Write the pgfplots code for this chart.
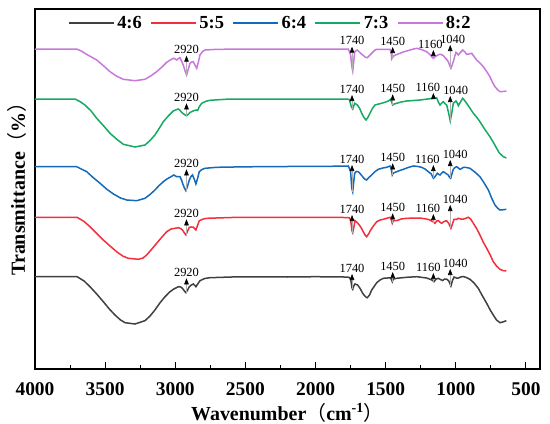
\documentclass[border=0pt]{standalone}
\usepackage{pgfplots}
\pgfplotsset{compat=1.18}
\usepackage{fontspec}
\setmainfont{Liberation Serif}
\newfontfamily\cjk{Noto Sans CJK SC}
\usetikzlibrary{arrows.meta}
\definecolor{cgray}{RGB}{64,64,64}
\definecolor{cred}{RGB}{245,45,60}
\definecolor{cblue}{RGB}{20,105,185}
\definecolor{cgreen}{RGB}{20,170,100}
\definecolor{cviolet}{RGB}{200,120,220}
\tikzset{
  annshaft/.style={gray!60, line width=0.6bp, -{Triangle[length=6bp,width=4.5bp,color=black,fill=black]}},
  annlabel/.style={above, black, inner sep=1.5bp, font=\fontsize{12.5}{13}\selectfont}
}
\newcommand{\ann}[5][0bp]{\draw[annshaft] (axis cs:#2,#3) -- (axis cs:#2,#4) node[annlabel,xshift=#1]{#5};}
\pgfplotsset{
  legend image code/.code={\draw[mark repeat=2,mark phase=2,#1] plot coordinates {(0bp,0bp) (22.5bp,0bp) (45bp,0bp)};},
}
\begin{document}
\begin{tikzpicture}
\begin{axis}[
  scale only axis, width=505bp, height=360bp,
  at={(0,0)}, anchor=south west,
  xmin=400, xmax=4000, x dir=reverse,
  ymin=55, ymax=415,
  ytick=\empty,
  xtick={500,1000,...,4000},
  minor x tick num=1,
  xtick pos=left,
  tick align=inside,
  major tick length=7bp, minor tick length=4bp,
  axis line style={line width=1.2bp},
  every tick/.style={black, line width=1bp},
  /pgf/number format/assume math mode=true,
  /pgf/number format/1000 sep={},
  xticklabel style={font=\bfseries\fontsize{19.5}{20}\selectfont, anchor=base, yshift=-26bp},
  xlabel={Wavenumber{\cjk\mdseries （}cm\textsuperscript{-1}{\cjk\mdseries ）}},
  xlabel style={at={(axis description cs:0.5,0)}, anchor=base, yshift=-51bp, font=\bfseries\fontsize{20}{22}\selectfont},
  ylabel={Transmittance{\cjk\mdseries （}\%{\cjk\mdseries ）}},
  ylabel style={at={(axis description cs:-0.0198,0.514)}, anchor=base, font=\bfseries\fontsize{20}{22}\selectfont},
  legend columns=5,
  legend style={draw=none, fill=none, at={(axis description cs:0.0653,0.9605)}, anchor=west, inner sep=0pt,
    font=\bfseries\fontsize{18.5}{19}\selectfont,
    nodes={inner sep=2.5bp},
    /tikz/every even column/.append style={column sep=6bp}},
  legend image post style={line width=1.6bp},
  every axis plot/.append style={line width=1.5bp},
]
\addplot[cgray] coordinates {
(4000,147.3)(3800,147.5)(3700,147.3)(3650,143)(3608,137.3)(3560,130)(3513,122.3)(3470,115)(3430,109)(3390,104)
(3358,101.3)(3287,100)(3216,103.3)(3180,108)(3145,114)(3110,121)(3073,127.3)(3040,132)(3014,134.7)(2978,137.3)
(2960,137)(2948,135.5)(2935,133)(2924,131.3)(2912,134)(2900,137.3)(2885,139)(2871,140)(2860,138.5)(2853,137.3)
(2840,140)(2824,143.3)(2790,145.5)(2753,146.3)(2600,147)(2400,147.2)(2200,147)(2000,147.3)(1800,147)(1760,146.7)
(1750,145)(1740,136)(1735,134.7)(1728,138)(1719,140)(1700,139)(1683,135.7)(1665,131)(1655,129)(1640,126.8)
(1631,126.3)(1615,129)(1600,134)(1580,138)(1564,141.3)(1540,144)(1517,145.7)(1469,146.2)(1460,145)(1453,142.3)
(1445,145)(1422,145.7)(1351,146.7)(1279,147.3)(1208,146)(1170,144)(1156,142.3)(1140,145)(1125,145.7)(1110,144.5)
(1094,143.5)(1080,145)(1066,145)(1050,143)(1035,138)(1025,143)(1013,147)(997,146)(982,146)(965,147)
(947,147.5)(925,146.5)(899,144.7)(870,141)(840,135.7)(810,128)(780,120.7)(755,114)(733,109)(710,104)
(685,101.3)(665,102)(640,103.3)};
\addlegendentry{4:6}
\addplot[cred] coordinates {
(4000,206.7)(3700,206.7)(3650,202.5)(3608,197.3)(3560,190.5)(3513,184)(3465,178)(3418,172.3)(3375,168)(3335,165.7)
(3263,164.7)(3230,166)(3204,169)(3170,174.5)(3133,180.7)(3095,187)(3061,192.3)(3030,195)(3002,195.7)(2978,196.3)
(2960,195.3)(2948,194)(2935,191)(2924,189)(2912,193)(2900,196.7)(2885,197)(2871,196.8)(2860,195)(2853,194)
(2840,199)(2829,203.3)(2800,205)(2776,205.7)(2600,206.5)(2200,206.7)(1800,206.5)(1760,206.3)(1750,204)(1740,193)
(1735,191.3)(1725,198)(1719,203.3)(1700,201)(1688,199)(1672,195.5)(1660,192.3)(1645,188.5)(1636,187.3)(1622,190)
(1607,194)(1585,198.5)(1564,202.3)(1540,204)(1517,204.7)(1469,206.7)(1460,204.5)(1453,200.7)(1445,203.5)(1422,203.3)
(1390,205)(1351,205.7)(1256,206)(1210,205)(1184,204)(1160,202)(1149,200.7)(1137,203)(1125,203.3)(1110,201.5)
(1101,200.7)(1085,202.5)(1066,203.3)(1050,200.5)(1035,195.7)(1024,200)(1013,204.7)(997,204.5)(982,205.7)(965,205)
(947,204.8)(930,205.7)(911,206.7)(895,205)(875,200.7)(850,195)(828,189)(805,182)(780,175.7)(755,169)
(733,162.3)(710,158)(685,154.7)(665,153.5)(640,153)};
\addlegendentry{5:5}
\addplot[cblue] coordinates {
(4000,257.3)(3703,257.3)(3670,255)(3631,252.3)(3590,247)(3536,240.7)(3490,235)(3441,230)(3390,226)(3346,224)
(3275,223.3)(3216,225.7)(3180,229.5)(3145,234)(3115,238.5)(3085,242.3)(3060,245)(3038,246.7)(3010,249)(2990,247.3)
(2967,247.3)(2955,244)(2948,240.7)(2935,236)(2924,233.3)(2912,238)(2900,244)(2888,247.5)(2877,249)(2865,245)
(2853,240)(2840,246)(2829,252.3)(2810,254.5)(2788,255.7)(2705,256.7)(2500,257.2)(2200,257.5)(1900,257.7)(1766,258)
(1750,252.3)(1742,236)(1735,232.3)(1728,242)(1721,250.7)(1710,252.5)(1695,252.3)(1680,250)(1664,247.3)(1650,245)
(1636,244)(1620,246.5)(1600,249)(1575,252.5)(1553,254.7)(1520,256)(1493,256.7)(1469,258)(1460,255)(1453,249)
(1445,251)(1422,252.3)(1400,253.5)(1374,254.7)(1340,256.5)(1303,258)(1270,257.5)(1244,256.7)(1220,255)(1196,252.3)
(1175,250)(1160,245.7)(1150,247)(1132,250.7)(1120,249.5)(1113,249)(1100,251)(1089,252.3)(1070,250.5)(1054,249)
(1044,246.5)(1037,245.7)(1028,250)(1018,254.7)(1006,256.5)(994,257.3)(982,256)(970,254.7)(958,255.5)(947,256.7)
(925,256.5)(899,255.7)(865,252)(828,247.3)(798,241)(768,234)(745,226)(721,219)(700,215.5)(685,214)
(665,214.2)(640,214.7)};
\addlegendentry{6:4}
\addplot[cgreen] coordinates {
(4000,325)(3715,325)(3680,322.5)(3644,319)(3600,313)(3560,305.7)(3510,298)(3465,290.7)(3415,284.5)(3370,279.7)
(3287,277)(3216,279)(3180,283.5)(3145,289)(3115,295.5)(3085,302.3)(3050,308)(3014,313)(2990,314.5)(2979,315)
(2967,313.8)(2955,311.7)(2935,309.5)(2924,308.5)(2919,308.3)(2905,310)(2895,311.5)(2883,312.3)(2865,313.5)(2847,314)
(2840,313.5)(2830,317)(2812,320.7)(2780,322.8)(2753,323.7)(2610,325)(2300,325)(2000,325)(1780,325)(1759,324.5)
(1745,317.3)(1735,315)(1728,318)(1721,320.7)(1702,319)(1685,315.5)(1671,310.7)(1655,306.5)(1640,304)(1625,307)
(1612,310.7)(1595,315.5)(1576,319)(1550,320)(1529,320.7)(1500,322)(1481,323)(1465,324.7)(1455,321)(1450,319)
(1440,320)(1422,320.7)(1390,322)(1350,323)(1300,323.5)(1255,324)(1200,325)(1160,325.7)(1137,326.3)(1125,322)
(1113,319)(1100,321)(1089,322.3)(1075,320)(1065,319)(1050,310)(1040,303)(1030,310)(1018,320.7)(999,323)
(990,321)(982,318.3)(965,322.5)(951,325.7)(940,324)(923,320.7)(900,316)(875,310.7)(850,306.5)(828,302.3)
(795,295)(757,287.3)(730,281)(709,275.7)(690,271)(661,267.3)(640,266)};
\addlegendentry{7:3}
\addplot[cviolet] coordinates {
(4000,375)(3703,375)(3670,373)(3630,369.5)(3560,364)(3510,358)(3465,352.3)(3420,348)(3370,344.7)(3287,343.3)
(3216,344.7)(3175,348)(3133,352.3)(3095,357)(3061,361.7)(3035,364)(3014,365.7)(3000,365)(2990,364)(2978,365.5)
(2967,366.3)(2955,363)(2943,359)(2930,353)(2919,349)(2907,355)(2895,360.7)(2883,362)(2872,362.3)(2860,359)
(2847,355.7)(2835,362)(2824,369)(2805,372.5)(2788,374)(2700,374.7)(2400,375)(2000,375)(1780,375)(1766,375)
(1750,369)(1742,358)(1735,353)(1728,362)(1721,372.3)(1702,374)(1680,371)(1664,369)(1645,366.8)(1631,366.3)
(1615,368.5)(1600,370.7)(1580,373.5)(1564,374.7)(1469,374.7)(1460,370)(1457,365)(1450,366.5)(1441,368.3)(1420,369.5)
(1398,370.7)(1375,372)(1350,373)(1315,374.5)(1279,375.7)(1245,374.5)(1208,372.3)(1185,369.5)(1170,367)(1160,365.7)
(1150,367)(1137,368.3)(1120,369.5)(1108,369.7)(1090,368.5)(1077,366.3)(1065,364.5)(1054,362.3)(1045,359)(1035,355.7)
(1026,359)(1018,362.3)(1008,367.5)(999,371.7)(990,370.5)(982,369)(965,372)(951,374)(935,372)(923,369.7)
(905,370)(887,370.7)(870,367.5)(852,364)(828,361)(804,357.3)(780,352.5)(757,347.3)(740,342)(721,337.3)
(700,334)(685,332.3)(665,332.5)(640,333)};
\addlegendentry{8:2}
% annotations: violet
\ann{2920}{349}{368.3}{2920}
\ann{1740}{353}{377.3}{1740}
\ann{1450}{365}{377}{1450}
\ann[-3bp]{1160}{365.7}{374}{1160}
\ann[2.5bp]{1040}{355.7}{379}{1040}
% green
\ann{2920}{308.3}{320.7}{2920}
\ann{1740}{315}{329}{1740}
\ann{1450}{319}{329.7}{1450}
\ann[-5.5bp]{1160}{325.7}{331}{1160}
\ann[5.5bp]{1040}{303}{328}{1040}
% blue
\ann{2920}{233.3}{254.7}{2920}
\ann{1740}{232.3}{259}{1740}
\ann{1450}{249}{260.7}{1450}
\ann[-6bp]{1160}{245.7}{259}{1160}
\ann[5bp]{1040}{245.7}{264}{1040}
% red
\ann{2920}{189}{204.7}{2920}
\ann{1740}{191.3}{209}{1740}
\ann{1450}{200.7}{210.7}{1450}
\ann[-5.5bp]{1160}{200.7}{210}{1160}
\ann[5bp]{1040}{195.7}{219}{1040}
% gray
\ann{2920}{131.3}{145.7}{2920}
\ann{1740}{134.7}{150}{1740}
\ann{1450}{142.3}{152}{1450}
\ann[-5bp]{1160}{142.3}{151}{1160}
\ann[5bp]{1040}{138}{155}{1040}
\end{axis}
\pgfresetboundingbox
\path (-35bp,-55bp) rectangle (515bp,369bp);
\end{tikzpicture}
\end{document}
